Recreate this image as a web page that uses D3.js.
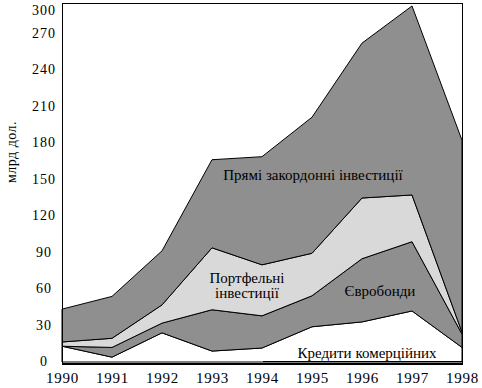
<!DOCTYPE html>
<html><head><meta charset="utf-8">
<script src="https://cdn.jsdelivr.net/npm/d3@7"></script>
<style>
body{margin:0;background:#fff;}
svg{display:block;}
</style></head>
<body>
<svg id="c" width="482" height="388"></svg>
<script>
const years = [1990,1991,1992,1993,1994,1995,1996,1997,1998];
const credits   = [13, 4, 24, 9, 11.5, 29, 33, 42, 12];
const eurobonds = [0, 8, 8, 34, 26.5, 25.5, 52, 57, 11];
const portfolio = [3.5, 7.5, 15, 51, 42, 35, 50, 38.5, 1.5];
const fdi       = [27, 34.5, 44.5, 72.5, 89, 112, 127.5, 161.5, 158];
const yTicks = [0,30,60,90,120,150,180,210,240,270,300];
const seriesKeys = ["credits","eurobonds","portfolio","fdi"];
const seriesLabels = {
  credits:["Кредити комерційних"],
  eurobonds:["Євробонди"],
  portfolio:["Портфельні","інвестиції"],
  fdi:["Прямі закордонні інвестиції"]
};
const yTitle = "млрд дол.";

const FONT = "Liberation Serif";
const table = years.map((yr,i)=>({year:yr, credits:credits[i], eurobonds:eurobonds[i], portfolio:portfolio[i], fdi:fdi[i]}));
const fills = {credits:"#ffffff", eurobonds:"#8f8f8f", portfolio:"#d9d9d9", fdi:"#8f8f8f"};

const svg = d3.select("#c");
const x = d3.scaleLinear().domain([1990,1998]).range([62,462]);
const y = d3.scaleLinear().domain([0,270,300]).range([362,34,5]);

const stack = d3.stack().keys(seriesKeys)(table);
const area = d3.area().x(d=>x(d.data.year)).y0(d=>y(d[0])).y1(d=>y(d[1]));

svg.append("g").selectAll("path").data(stack).join("path")
  .attr("d", area)
  .attr("fill", d=>fills[d.key])
  .attr("stroke","#000")
  .attr("stroke-width",1)
  .attr("stroke-linejoin","miter");

// frame
const fr = svg.append("g").attr("fill","none").attr("stroke","#000");
fr.append("line").attr("x1",62.5).attr("x2",62.5).attr("y1",3).attr("y2",365);
fr.append("line").attr("x1",62).attr("x2",462.5).attr("y1",3.5).attr("y2",3.5);
fr.append("line").attr("x1",462.5).attr("x2",462.5).attr("y1",3).attr("y2",365);
fr.append("line").attr("x1",62).attr("x2",463).attr("y1",364).attr("y2",364).attr("stroke-width",2);
fr.append("line").attr("x1",263).attr("x2",462).attr("y1",361.5).attr("y2",361.5);

// axes
const ya = svg.append("g").attr("transform","translate(44,-1)")
  .call(d3.axisLeft(y).tickValues(yTicks).tickSize(0).tickPadding(0).tickFormat(d3.format("d")));
ya.select(".domain").remove();
ya.attr("text-anchor","middle").attr("font-family",FONT).attr("font-size",14);
ya.selectAll("text").style("font-family",FONT).attr("fill","#000").attr("letter-spacing","1px")
  .attr("dy", d => d===300 ? "0.75em" : "0.32em");

const xa = svg.append("g").attr("transform","translate(0,364)")
  .call(d3.axisBottom(x).tickValues(years).tickSize(0).tickPadding(8).tickFormat(d3.format("d")));
xa.select(".domain").remove();
xa.attr("font-family",FONT).attr("font-size",15);
xa.selectAll("text").style("font-family",FONT).attr("fill","#000").attr("letter-spacing","0.8px");

// y title
svg.append("text").attr("transform","translate(16,152) rotate(-90)")
  .style("font-family",FONT)
  .attr("text-anchor","middle").attr("font-size",14).attr("letter-spacing","0.5px").text(yTitle);

// series labels
const labelPos = {fdi:[313,175], portfolio:[247,278], eurobonds:[380,291], credits:[367,353]};
seriesKeys.forEach(k=>{
  const lines = seriesLabels[k];
  const [cx,cy] = labelPos[k];
  const t = svg.append("text").attr("text-anchor","middle").style("font-family",FONT).attr("font-size",15).attr("fill","#000");
  lines.forEach((s,i)=>{
    t.append("tspan").attr("x",cx).attr("y",cy+i*15).attr("dy","0.35em").text(s);
  });
});
</script>
</body></html>
